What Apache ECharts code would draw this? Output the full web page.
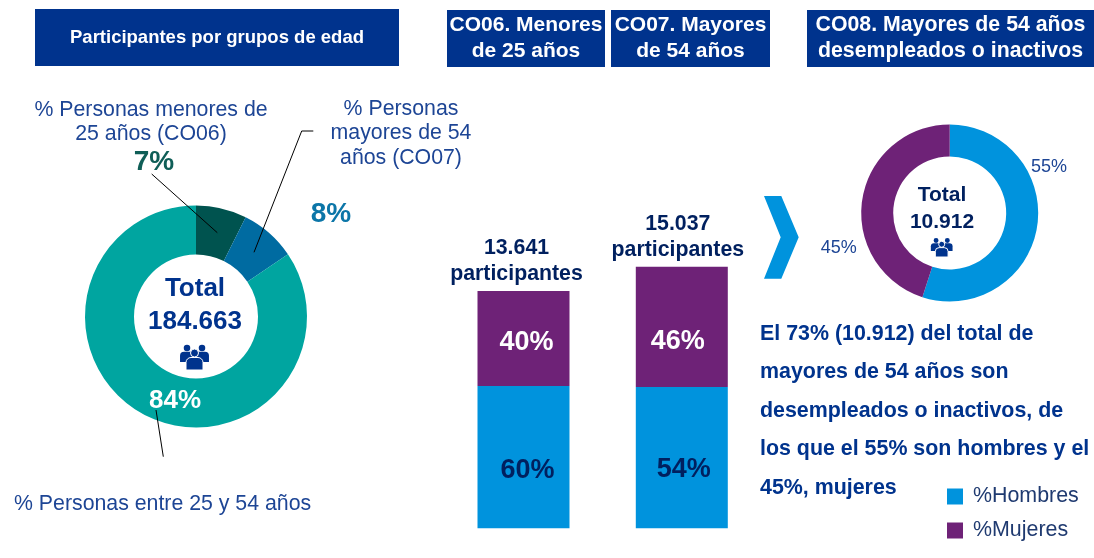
<!DOCTYPE html>
<html>
<head>
<meta charset="utf-8">
<title>Participantes por grupos de edad</title>
<script src="https://cdn.jsdelivr.net/npm/echarts@6/dist/echarts.min.js"></script>
<style>
  html, body { margin: 0; padding: 0; background: #fff; }
  #main { width: 1094px; height: 558px; }
</style>
</head>
<body>
<div id="main"></div>
<script>
// datos
var edadNombres = ["% Personas menores de 25 años (CO06)", "% Personas mayores de 54 años (CO07)", "% Personas entre 25 y 54 años"];
var edadValores = [13641, 15037, 155985];
var edadPct = ["7%", "8%", "84%"];
var totalEdad = "184.663";

var barCategorias = ["CO06", "CO07"];
var participantes = [13641, 15037];
var participantesTxt = ["13.641", "15.037"];
var hombres = [8185, 8120];
var mujeres = [5456, 6917];
var hombresPct = ["60%", "54%"];
var mujeresPct = ["40%", "46%"];

var sexoNombres = ["%Hombres", "%Mujeres"];
var sexoValores = [55, 45];
var totalCO08 = "10.912";

var cabeceras = ["Participantes por grupos de edad", "CO06. Menores\nde 25 años", "CO07. Mayores\nde 54 años", "CO08. Mayores de 54 años\ndesempleados o inactivos"];
var parrafo = ["El 73% (10.912) del total de", "mayores de 54 años son", "desempleados o inactivos, de", "los que el 55% son hombres y el", "45%, mujeres"];

// colores
var AZUL = "#00338d", NAVY = "#00205f", TXT = "#1d4595";
var CIELO = "#0093dd", PURPURA = "#6e2277";
var FONT = "Liberation Sans, Arial, sans-serif";

var charts = echarts.init(document.getElementById("main"));

function texto(x, y, str, size, color, bold, align) {
  return {
    type: "text", z: 100, x: x, y: y + 1,
    style: {
      text: str, fill: color, align: align || "center", verticalAlign: "middle",
      font: (bold ? "bold " : "") + size + "px " + FONT
    }
  };
}
function cabecera(x, y, w, h, str, size) {
  return [
    { type: "rect", z: 90, shape: { x: x, y: y, width: w, height: h }, style: { fill: AZUL } },
    {
      type: "text", z: 100, x: x + w / 2, y: y + h / 2,
      style: { text: str, fill: "#fff", align: "center", verticalAlign: "middle", lineHeight: 26, font: "bold " + size + "px " + FONT }
    }
  ];
}
function linea(puntos) {
  return { type: "polyline", z: 100, shape: { points: puntos }, style: { stroke: "#000", lineWidth: 1, fill: null } };
}
// icono de las tres personas
function persona(cx, cy, s, borde) {
  var st = { fill: AZUL, stroke: borde ? "#fff" : null, lineWidth: 1 };
  return [
    { type: "circle", z: 101, shape: { cx: cx, cy: cy - 8 * s, r: 4 * s }, style: st },
    { type: "rect", z: 101, shape: { x: cx - 8.5 * s, y: cy - 3.5 * s, width: 17 * s, height: 12.5 * s, r: [5 * s, 5 * s, 0, 0] }, style: st }
  ];
}
function icono(cx, cy, s) {
  return persona(cx - 7.5 * s, cy - 3.5 * s, s * 0.82, false)
    .concat(persona(cx + 7.5 * s, cy - 3.5 * s, s * 0.82, false))
    .concat(persona(cx, cy + 3 * s, s, true));
}

var graficos = []
  .concat(cabecera(35, 9, 364, 57, cabeceras[0], 18.5))
  .concat(cabecera(447, 10, 158, 57, cabeceras[1], 21))
  .concat(cabecera(611, 10, 159, 57, cabeceras[2], 21))
  .concat(cabecera(807, 10, 287, 57, cabeceras[3], 21.3))
  .concat([
    texto(151, 109, "% Personas menores de", 21.3, TXT),
    texto(151, 133, "25 años (CO06)", 21.3, TXT),
    texto(154, 161, edadPct[0], 28, "#0f5e57", true),
    texto(401, 108, "% Personas", 21.3, TXT),
    texto(401, 132, "mayores de 54", 21.3, TXT),
    texto(401, 157, "años (CO07)", 21.3, TXT),
    texto(331, 213, edadPct[1], 28, "#0c76a8", true),
    texto(195, 288, "Total", 26, AZUL, true),
    texto(195, 321, totalEdad, 26, AZUL, true),
    linea([[151.7, 174], [217.3, 232.7]]),
    linea([[313.3, 131], [301.7, 131], [254, 252.3]]),
    linea([[156, 410], [163.3, 456.7]]),
    texto(175, 400, edadPct[2], 26, "#fff", true),
    texto(14, 503, "% Personas entre 25 y 54 años", 21.3, TXT, false, "left"),
    texto(942, 194, "Total", 21, NAVY, true),
    texto(942, 221, totalCO08, 21, NAVY, true),
    texto(1049, 166, sexoValores[0] + "%", 18, TXT),
    texto(838.7, 247, sexoValores[1] + "%", 18, TXT),
    {
      type: "polygon", z: 100,
      shape: { points: [[764, 196], [781.3, 196], [798.7, 237.3], [781.3, 278.7], [764, 278.7], [780.7, 237.3]] },
      style: { fill: CIELO }
    }
  ])
  .concat(icono(194.5, 358, 1))
  .concat(icono(941.7, 248, 0.75))
  .concat(parrafo.map(function(t, i) {
    return texto(760, 333 + i * 38.5, t, 21.4, AZUL, true, "left");
  }));

var option = {
  backgroundColor: "#fff",
  animation: false,
  textStyle: { fontFamily: FONT },
  grid: { left: 444.35, top: 250, width: 316.6, height: 278.3 },
  legend: {
    data: sexoNombres,
    orient: "vertical",
    left: 942,
    top: 481,
    itemWidth: 16,
    itemHeight: 16,
    itemGap: 13,
    icon: "rect",
    textStyle: { fontSize: 21.4, color: "#1f3a70", fontFamily: FONT, padding: [0, 0, 0, 5] }
  },
  xAxis: { type: "category", data: barCategorias, show: false },
  yAxis: { type: "value", min: 0, max: 16000, show: false },
  series: [
    {
      type: "pie",
      center: [196, 316.5],
      radius: [62, 111],
      startAngle: 90,
      label: { show: false },
      labelLine: { show: false },
      silent: true,
      data: edadNombres.map(function(n, i) {
        return { name: n, value: edadValores[i], itemStyle: { color: ["#00534f", "#006ba1", "#00a5a0"][i] } };
      })
    },
    {
      type: "pie",
      center: [949.7, 213],
      radius: [56.5, 88.5],
      startAngle: 90,
      label: { show: false },
      labelLine: { show: false },
      silent: true,
      data: sexoNombres.map(function(n, i) {
        return { name: n, value: sexoValores[i], itemStyle: { color: [CIELO, PURPURA][i] } };
      })
    },
    {
      name: sexoNombres[0],
      type: "bar",
      stack: "total",
      barWidth: 92,
      itemStyle: { color: CIELO },
      data: hombres.map(function(v, i) {
        return {
          value: v,
          label: {
            show: true, position: "inside", formatter: hombresPct[i], offset: [[4, 13], [2, 12]][i],
            fontSize: 27, fontWeight: "bold", color: NAVY, fontFamily: FONT
          }
        };
      })
    },
    {
      name: sexoNombres[1],
      type: "bar",
      stack: "total",
      barWidth: 92,
      itemStyle: { color: PURPURA },
      data: mujeres.map(function(v, i) {
        return {
          value: v,
          label: {
            show: true, position: "inside", formatter: mujeresPct[i], offset: [[3, 4], [-4, 15]][i],
            fontSize: 27, fontWeight: "bold", color: "#fff", fontFamily: FONT
          }
        };
      })
    },
    {
      // solo para poner el total encima de cada barra
      type: "line",
      symbol: "circle",
      symbolSize: 0,
      lineStyle: { opacity: 0 },
      z: 5,
      data: participantes.map(function(v, i) {
        return { value: v, label: { offset: [[-7, 0], [-4, 0]][i] } };
      }),
      label: {
        show: true,
        position: "top",
        distance: 4,
        fontSize: 21.3,
        lineHeight: 26,
        fontWeight: "bold",
        color: NAVY,
        fontFamily: FONT,
        formatter: function(p) {
          return participantesTxt[p.dataIndex] + "\nparticipantes";
        }
      }
    }
  ],
  graphic: { elements: graficos }
};
charts.setOption(option);
</script>
</body>
</html>
